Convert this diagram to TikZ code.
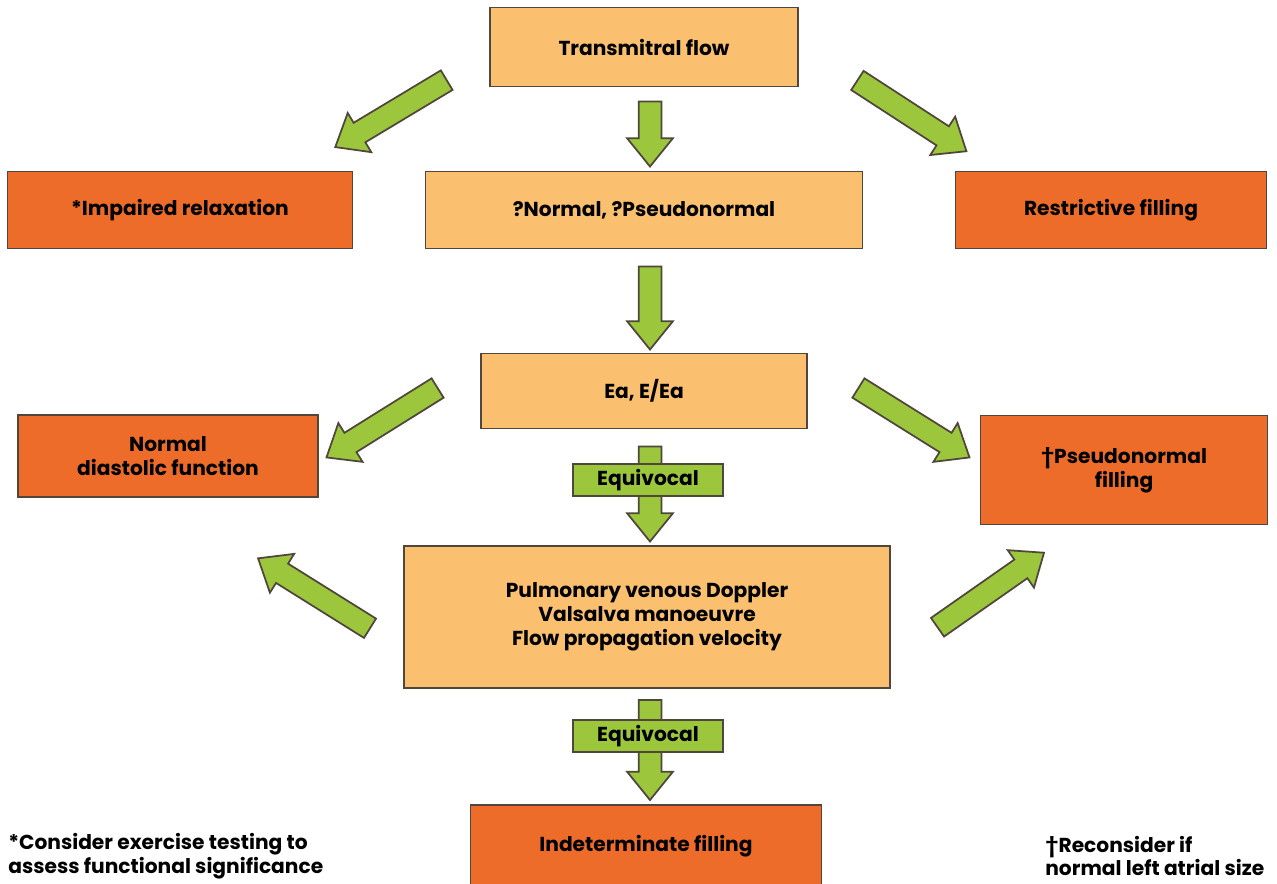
\documentclass[tikz,border=0pt]{standalone}
\usepackage{fontspec}
\setmainfont{Poppins}
\usetikzlibrary{shapes.arrows, positioning}

\definecolor{lightbox}{RGB}{250,192,112}
\definecolor{darkbox}{RGB}{238,108,42}
\definecolor{arrowgreen}{RGB}{156,198,60}
\definecolor{edgegray}{RGB}{80,70,60}

\begin{document}
\begin{tikzpicture}[x=0.02cm, y=-0.02cm,
  font=\fontsize{11.5}{13.5}\selectfont\bfseries,
  box/.style={draw=edgegray, line width=1pt, align=center, inner sep=0pt},
  light/.style={box, fill=lightbox},
  dark/.style={box, fill=darkbox},
  flowarrow/.style={single arrow, draw=edgegray, fill=arrowgreen, line width=1pt,
    inner xsep=0pt, inner ysep=0.21cm, single arrow head extend=0.23cm,
    single arrow tip angle=78, outer sep=0pt},
  tag/.style={draw=edgegray, fill=arrowgreen, line width=1pt,
    minimum width=3cm, minimum height=0.64cm, inner sep=0pt}]

\useasboundingbox (0,0) rectangle (1277,883);

% boxes
\node[light, minimum width=6.16cm, minimum height=1.58cm] (flow) at (644,47) {Transmitral flow};
\node[dark, minimum width=6.9cm, minimum height=1.54cm] (impaired) at (180,210) {*Impaired relaxation};
\node[light, minimum width=8.74cm, minimum height=1.54cm] (pnormal) at (644,210) {?Normal, ?Pseudonormal};
\node[dark, minimum width=6.22cm, minimum height=1.54cm] (restrict) at (1111,210) {Restrictive filling};
\node[light, minimum width=6.52cm, minimum height=1.5cm] (eaea) at (644,391) {Ea, E/Ea};
\node[dark, minimum width=6cm, minimum height=1.64cm] (normal) at (168,456) {Normal\\diastolic function};
\node[dark, minimum width=5.74cm, minimum height=2.18cm] (pseudo) at (1124,470) {\textdagger Pseudonormal\\filling};
\node[light, minimum width=9.72cm, minimum height=2.84cm] (doppler) at (647,617)
  {Pulmonary venous Doppler\\Valsalva manoeuvre\\Flow propagation velocity};
\node[dark, minimum width=7.02cm, minimum height=1.64cm] (indet) at (646,846) {Indeterminate filling};

% arrows
\node[flowarrow, rotate=211, minimum height=2.6cm] (a1) at (397,110) {};
\node[flowarrow, rotate=270, minimum height=1.3cm] (a2) at (650,127) {};
\node[flowarrow, rotate=-33, minimum height=2.6cm] (a3) at (906,112) {};
\node[flowarrow, rotate=270, minimum height=1.66cm] (a4) at (650,301) {};
\node[flowarrow, rotate=212, minimum height=2.62cm] (a5) at (388,419) {};
\node[flowarrow, rotate=-32, minimum height=2.62cm] (a6) at (908,419) {};
\node[flowarrow, rotate=270, minimum height=1.9cm] (a7) at (650,487) {};
\node[flowarrow, rotate=148, minimum height=2.64cm] (a8) at (320,597) {};
\node[flowarrow, rotate=35, minimum height=2.6cm] (a9) at (985,594) {};
\node[flowarrow, rotate=270, minimum height=2cm] (a10) at (650,743) {};

\node[tag] (equiv1) at (648,480) {Equivocal};
\node[tag] (equiv2) at (648,736) {Equivocal};

% footnotes
\node[anchor=west, align=left, inner sep=0pt] (note1) at (8,856) {*Consider exercise testing to\\assess functional significance};
\node[anchor=west, align=left, inner sep=0pt] (note2) at (1045,856) {\textdagger Reconsider if\\normal left atrial size};
\end{tikzpicture}
\end{document}
